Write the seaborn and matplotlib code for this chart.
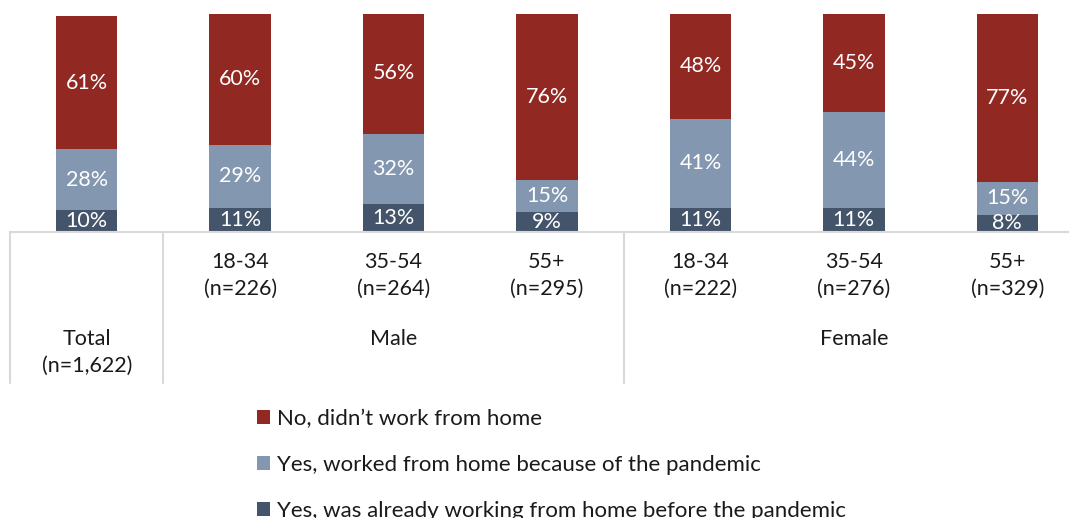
import matplotlib
matplotlib.use("Agg")
import matplotlib.pyplot as plt
import matplotlib.transforms as mtransforms
from matplotlib.lines import Line2D
from matplotlib.patches import Patch
import numpy as np
import pandas as pd
import seaborn as sns

# Survey results: worked from home during the pandemic, by sex and age group
groups = ["Total", "18-34", "35-54", "55+", "18-34", "35-54", "55+"]
sample_sizes = ["(n=1,622)", "(n=226)", "(n=264)", "(n=295)", "(n=222)", "(n=276)", "(n=329)"]
sexes = ["Male", "Female"]
already_home = [10, 11, 13, 9, 11, 11, 8]
pandemic_home = [28, 29, 32, 15, 41, 44, 15]
not_home = [61, 60, 56, 76, 48, 45, 77]

series_names = [
    "No, didn\u2019t work from home",
    "Yes, worked from home because of the pandemic",
    "Yes, was already working from home before the pandemic",
]
colors = {"not": "#922822", "pandemic": "#8497B0", "already": "#44546A"}

sns.set_theme(style="white")
plt.rcParams["font.family"] = ["Lato", "DejaVu Sans"]

W, H = 1069, 518
fig = plt.figure(figsize=(W / 100, H / 100), dpi=100)

# axes spans slightly past the right edge of the canvas
x0, x1 = 10, 1084
y_top, y_base = 14, 232
ax = fig.add_axes([x0 / W, (H - y_base) / H, (x1 - x0) / W, (y_base - y_top) / H])

pos = list(range(len(groups)))
df = pd.DataFrame({
    "pos": pos,
    "already": already_home,
    "pandemic": pandemic_home,
    "not": not_home,
})
df["lower2"] = df["already"] + df["pandemic"]
df["total"] = df["lower2"] + df["not"]

bar_w = 0.40
sns.barplot(data=df, x="pos", y="total", color=colors["not"], width=bar_w,
            saturation=1, ax=ax, native_scale=True, linewidth=0)
sns.barplot(data=df, x="pos", y="lower2", color=colors["pandemic"], width=bar_w,
            saturation=1, ax=ax, native_scale=True, linewidth=0)
sns.barplot(data=df, x="pos", y="already", color=colors["already"], width=bar_w,
            saturation=1, ax=ax, native_scale=True, linewidth=0)

ax.set_xlim(-0.5, len(groups) - 0.5)
ax.set_ylim(0, 100)
ax.set_xlabel("")
ax.set_ylabel("")
ax.set_xticks([])
ax.set_yticks([])
for side in ["left", "right", "top"]:
    ax.spines[side].set_visible(False)
ax.spines["bottom"].set_color("#d9d9d9")
ax.spines["bottom"].set_linewidth(1.5)

# value labels centred in each segment
lab_fs = 15.5
for i, row in df.iterrows():
    segs = [(0, row["already"]), (row["already"], row["pandemic"]),
            (row["lower2"], row["not"])]
    for base, val in segs:
        ax.text(row["pos"], base + val / 2, f"{val}%", ha="center", va="center",
                color="white", fontsize=lab_fs)

# category table below the axis
def fy(py):
    return (H - py) / H

tr = mtransforms.blended_transform_factory(ax.transData, fig.transFigure)
txt_color = "#1a1a1a"
for i in pos:
    if i == 0:
        ax.text(i, fy(339), groups[i], ha="center", va="center", transform=tr,
                fontsize=lab_fs, color=txt_color)
        ax.text(i, fy(366), sample_sizes[i], ha="center", va="center", transform=tr,
                fontsize=lab_fs, color=txt_color)
    else:
        ax.text(i, fy(262), groups[i], ha="center", va="center", transform=tr,
                fontsize=lab_fs, color=txt_color)
        ax.text(i, fy(289), sample_sizes[i], ha="center", va="center", transform=tr,
                fontsize=lab_fs, color=txt_color)

ax.text(2, fy(339), sexes[0], ha="center", va="center", transform=tr,
        fontsize=lab_fs, color=txt_color)
ax.text(5, fy(339), sexes[1], ha="center", va="center", transform=tr,
        fontsize=lab_fs, color=txt_color)

for xs in [-0.5, 0.5, 3.5]:
    ax.add_line(Line2D([xs, xs], [fy(y_base), fy(383)], transform=tr,
                       color="#d9d9d9", linewidth=1.5, clip_on=False))

handles = [Patch(facecolor=colors[k], edgecolor="none")
           for k in ["not", "pandemic", "already"]]
fig.legend(handles, series_names, loc="upper left",
           bbox_to_anchor=(257 / W, fy(409)), frameon=False,
           fontsize=16, handlelength=0.58, handleheight=0.58,
           handletextpad=0.32, labelspacing=1.16, borderpad=0, borderaxespad=0,
           labelcolor=txt_color)

fig.savefig("out.png", dpi=100)
